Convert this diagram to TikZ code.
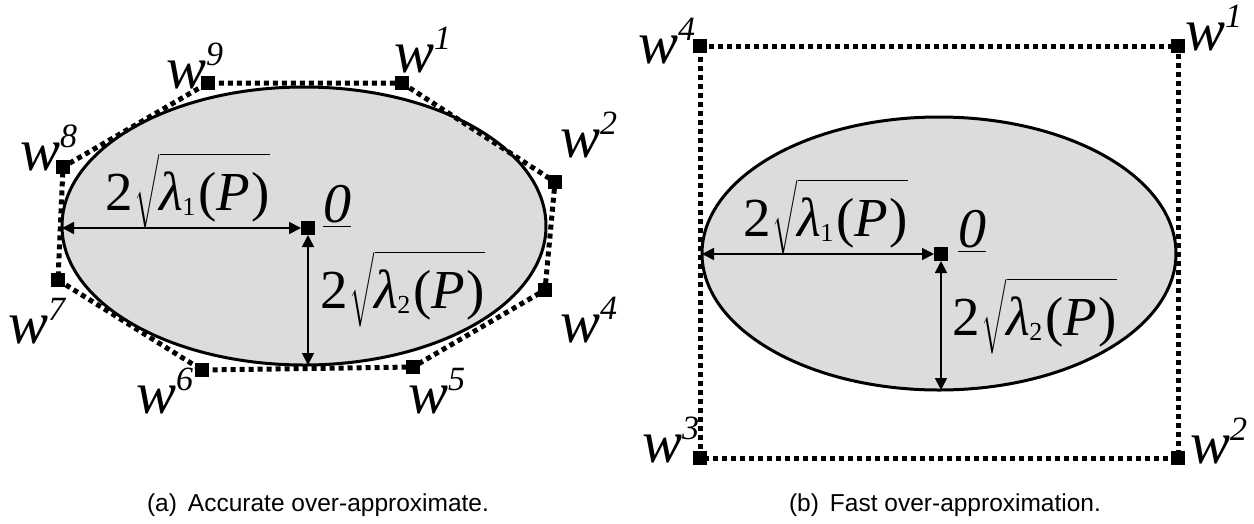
\documentclass[tikz,border=0pt]{standalone}
\usepackage{fontspec}
\usepackage{amsmath}
\setmainfont{Liberation Serif}
\newfontfamily\capfont{Liberation Sans}
\usetikzlibrary{arrows.meta,shapes.geometric}
\definecolor{ellfill}{RGB}{220,220,220}
\newcommand{\wlab}[1]{\textit{w}\raisebox{23pt}{\fontsize{34}{34}\selectfont\textit{#1}}}
\newcommand{\lamlab}[1]{2\kern2pt$\sqrt{\rule[-0.2em]{0pt}{1.05em}\text{\itshape λ\kern-1pt\raisebox{-5pt}{\fontsize{26}{26}\selectfont\upshape #1}\kern3pt\upshape(\itshape P\kern1pt\upshape)}}$}
\newcommand{\zerolab}{$\underline{\text{\itshape 0}}$}
\begin{document}
\begin{tikzpicture}[x=1pt,y=-1pt,
  ell/.style={ellipse,draw=black,fill=ellfill,line width=3pt,inner sep=0pt,outer sep=0pt},
  mk/.style={rectangle,fill=black,minimum size=14pt,inner sep=0pt,outer sep=0pt},
  dotl/.style={line width=5pt,dash pattern=on 5pt off 4pt},
  dim/.style={{Triangle[length=12pt,width=12pt]}-{Triangle[length=12pt,width=12pt]},line width=1.8pt},
  wl/.style={anchor=base west,inner sep=0pt,font=\fontsize{60}{60}\selectfont},
  ll/.style={anchor=base west,inner sep=0pt,font=\fontsize{55}{55}\selectfont},
  zl/.style={anchor=base west,inner sep=0pt,font=\fontsize{56}{56}\selectfont},
  captxt/.style={anchor=base,inner sep=0pt,font=\capfont\fontsize{24.5}{28}\selectfont}]
\useasboundingbox (0,0) rectangle (1254,523);
% ---------- (a) ----------
\node[ell,minimum width=484pt,minimum height=278pt] (E1) at (304,226) {};
\node[mk] (a1) at (402,83) {};
\node[mk] (a2) at (555,182) {};
\node[mk] (a4) at (545,290) {};
\node[mk] (a5) at (413,367) {};
\node[mk] (a6) at (202,370) {};
\node[mk] (a7) at (58,280) {};
\node[mk] (a8) at (63,167) {};
\node[mk] (a9) at (208,83) {};
\draw[dotl] (a1.center) -- (a2.center) -- (a4.center) -- (a5.center) -- (a6.center) -- (a7.center) -- (a8.center) -- (a9.center) -- cycle;
\foreach \n in {a1,a2,a4,a5,a6,a7,a8,a9} \node[mk] at (\n) {};
\node[mk] (o1) at (308,228) {};
\draw[dim] (o1.west -| E1.west) -- (o1.west);
\draw[dim] (o1.south) -- (o1.south |- E1.south);
\node[wl] (la1) at (394,72) {\wlab{1}};
\node[wl] (la2) at (560,157) {\wlab{2}};
\node[wl] (la4) at (560,342) {\wlab{4}};
\node[wl] (la5) at (408,413) {\wlab{5}};
\node[wl] (la6) at (136,413) {\wlab{6}};
\node[wl] (la7) at (8,343) {\wlab{7}};
\node[wl] (la8) at (20,170) {\wlab{8}};
\node[wl] (la9) at (166,88) {\wlab{9}};
\node[ll] (lam1a) at (105,210) {\lamlab{1}};
\node[ll] (lam2a) at (320,308) {\lamlab{2}};
\node[zl] (za) at (323,222) {\zerolab};
\node[captxt] (capa) at (318,511) {(a)\hspace{0.45em}Accurate over-approximate.};
% ---------- (b) ----------
\node[ell,minimum width=474pt,minimum height=273pt] (E2) at (939,253.5) {};
\node[mk] (b4) at (700,46) {};
\node[mk] (b1) at (1178,46) {};
\node[mk] (b2) at (1178,458) {};
\node[mk] (b3) at (700,458) {};
\draw[dotl] (b4.center) -- (b1.center) -- (b2.center) -- (b3.center) -- cycle;
\foreach \n in {b1,b2,b3,b4} \node[mk] at (\n) {};
\node[mk] (o2) at (941,254) {};
\draw[dim] (o2.west -| E2.west) -- (o2.west);
\draw[dim] (o2.south) -- (o2.south |- E2.south);
\node[wl] (lb4) at (638,63) {\wlab{4}};
\node[wl] (lb1) at (1185,50) {\wlab{1}};
\node[wl] (lb3) at (642,462) {\wlab{3}};
\node[wl] (lb2) at (1190,463) {\wlab{2}};
\node[ll] (lam1b) at (743,236) {\lamlab{1}};
\node[ll] (lam2b) at (952,335) {\lamlab{2}};
\node[zl] (zb) at (958,247) {\zerolab};
\node[captxt] (capb) at (945,511) {(b)\hspace{0.45em}Fast over-approximation.};
\end{tikzpicture}
\end{document}
